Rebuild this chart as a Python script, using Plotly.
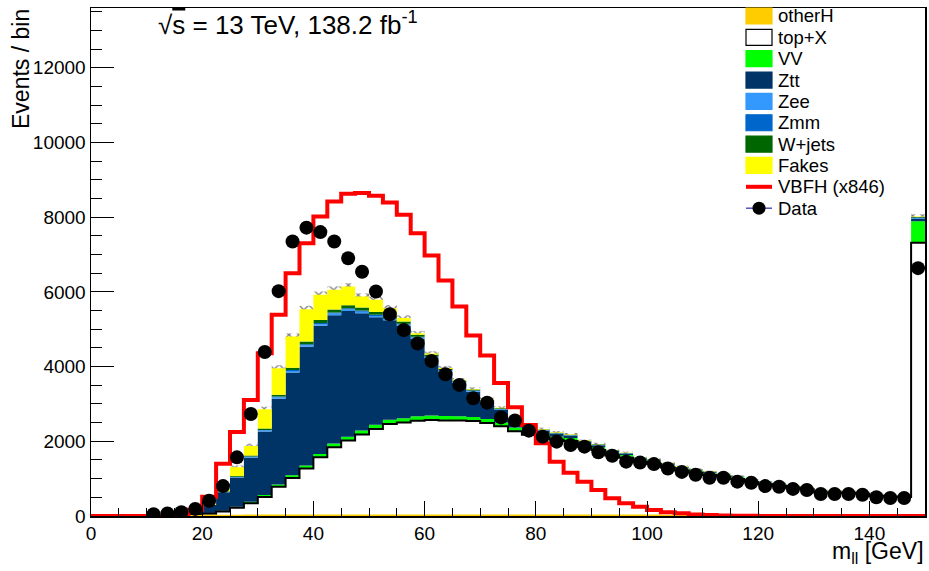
import plotly.graph_objects as go

# ---------------- data (60 bins of 2.5 GeV from 0 to 150) ----------------
bin_width = 2.5
n_bins = 60
bin_edges = [bin_width * i for i in range(n_bins + 1)]
bin_centers = [bin_width * (i + 0.5) for i in range(n_bins)]

otherH = [0, 0, 0, 0, 0, 0, 0, 2, 5, 8, 10, 15, 15, 15, 15, 15, 15, 15, 15, 15,
          15, 15, 15, 15, 15, 15, 15, 15, 15, 15, 15, 15, 15, 15, 15, 15, 15, 15, 15, 15,
          15, 8, 8, 8, 8, 8, 8, 8, 8, 8, 8, 8, 8, 8, 8, 8, 8, 8, 8, 30]
topX = [0, 0, 0, 0, 0, 0, 8, 23, 55, 112, 210, 325, 495, 765, 1005, 1255, 1555, 1825, 2005, 2165,
        2315, 2445, 2485, 2535, 2555, 2545, 2540, 2525, 2475, 2385, 2251, 2159, 2086, 2026, 1990, 1836, 1755, 1606, 1544, 1429,
        1383, 1290, 1208, 1152, 1087, 1048, 985, 900, 840, 803, 746, 709, 621, 613, 609, 586, 527, 509, 500, 7283]
VV = [0, 0, 0, 0, 0, 0, 2, 5, 10, 20, 30, 40, 50, 60, 70, 80, 90, 100, 105, 110,
      115, 120, 120, 122, 122, 120, 115, 110, 110, 105, 100, 95, 90, 88, 85, 82, 80, 76, 72, 70,
      66, 63, 60, 57, 55, 52, 50, 48, 46, 44, 42, 40, 38, 37, 36, 35, 34, 33, 32, 580]
Ztt = [0, 0, 0, 0, 0, 0, 30, 80, 225, 497, 784, 1180, 1701, 2296, 2753, 3180, 3432, 3437, 3365, 3140,
       2874, 2659, 2474, 2076, 1540, 1177, 892, 676, 450, 330, 200, 130, 90, 70, 60, 50, 45, 40, 35, 30,
       28, 25, 22, 20, 18, 16, 14, 12, 11, 10, 9, 9, 8, 8, 7, 7, 6, 6, 5, 60]
Zee = [0, 0, 0, 0, 0, 0, 0, 0, 3, 8, 12, 18, 25, 35, 40, 40, 42, 42, 40, 40,
       38, 35, 32, 30, 28, 25, 22, 20, 18, 16, 14, 12, 11, 10, 9, 8, 8, 7, 7, 6,
       6, 5, 5, 5, 4, 4, 3, 3, 3, 3, 3, 3, 3, 3, 3, 3, 3, 3, 3, 20]
Zmm = [0, 0, 0, 0, 0, 0, 0, 0, 2, 5, 8, 12, 18, 25, 28, 30, 30, 30, 30, 30,
       28, 26, 24, 22, 20, 18, 16, 14, 12, 11, 10, 9, 8, 7, 6, 6, 5, 5, 5, 4,
       4, 4, 4, 3, 3, 3, 2, 2, 2, 2, 2, 2, 2, 2, 2, 2, 2, 2, 2, 15]
Wjets = [0, 0, 0, 0, 0, 0, 0, 0, 0, 10, 20, 30, 40, 50, 60, 70, 80, 80, 80, 80,
         75, 70, 60, 50, 40, 35, 30, 25, 22, 20, 18, 16, 15, 14, 13, 12, 12, 11, 10, 10,
         9, 9, 8, 8, 7, 6, 5, 5, 5, 5, 5, 5, 5, 5, 5, 5, 5, 5, 5, 20]
Fakes = [0, 0, 0, 0, 0, 0, 5, 10, 30, 60, 230, 255, 513, 710, 833, 867, 678, 528, 503, 296,
         327, 194, 90, 40, 30, 30, 15, 15, 20, 15, 12, 14, 15, 10, 10, 9, 9, 8, 8, 8,
         7, 7, 7, 6, 6, 6, 5, 5, 5, 5, 5, 5, 5, 5, 5, 5, 5, 5, 5, 10]
# half-width of the hatched uncertainty band on the stack total
stack_unc = [0, 0, 0, 0, 0, 0, 5, 10, 20, 35, 50, 60, 70, 80, 85, 90, 90, 90, 90, 85,
             85, 80, 70, 65, 60, 55, 50, 45, 45, 40, 40, 38, 36, 35, 34, 33, 32, 30, 29, 28,
             27, 26, 25, 24, 23, 22, 21, 20, 19, 18, 18, 17, 16, 16, 15, 15, 14, 14, 13, 60]
VBFH_x846 = [0, 0, 0, 0, 0, 0, 40, 170, 518, 1400, 2250, 3108, 4358, 5385, 6500, 7305, 8019, 8420, 8626, 8645,
             8573, 8390, 8064, 7573, 6974, 6305, 5608, 4831, 4295, 3560, 2910, 2438, 1947, 1455, 1161, 920, 697, 473, 339, 250,
             160, 98, 71, 40, 25, 15, 8, 5, 3, 2, 1, 1, 0, 0, 0, 0, 0, 0, 0, 0]
data = [None, None, None, None, 45, 70, 100, 190, 410, 800, 1570, 2730, 4390, 6020, 7350, 7720, 7600, 7350, 6900, 6540,
        6010, 5400, 4980, 4620, 4150, 3795, 3510, 3150, 3035, 2640, 2555, 2285, 2125, 1990, 1900, 1857, 1705, 1615, 1455, 1430,
        1390, 1270, 1180, 1105, 1025, 1025, 920, 890, 800, 785, 725, 695, 590, 590, 590, 570, 500, 480, 480, 6635]

stack = [
    ("otherH", otherH, "#ffcc00"),
    ("top+X", topX, "#ffffff"),
    ("VV", VV, "#00ff00"),
    ("Ztt", Ztt, "#003366"),
    ("Zee", Zee, "#3399ff"),
    ("Zmm", Zmm, "#0066cc"),
    ("W+jets", Wjets, "#006600"),
    ("Fakes", Fakes, "#ffff00"),
]
for _, v, _ in stack:
    assert len(v) == n_bins
assert len(VBFH_x846) == n_bins and len(data) == n_bins and len(stack_unc) == n_bins


def steps(vals):
    return list(vals) + [vals[-1]]


fig = go.Figure()

cum = [0.0] * n_bins
cums = {}
for i, (name, vals, col) in enumerate(stack):
    cum = [a + b for a, b in zip(cum, vals)]
    cums[name] = cum
    fig.add_trace(go.Scatter(
        x=bin_edges, y=steps(cum), mode="lines", line=dict(shape="hv", width=0, color=col),
        fill="tozeroy" if i == 0 else "tonexty", fillcolor=col, name=name, showlegend=False,
        hoverinfo="skip"))
total = cum

# outlines
fig.add_trace(go.Scatter(x=bin_edges, y=steps(cums["top+X"]), mode="lines",
                         line=dict(shape="hv", width=2, color="black"), showlegend=False, hoverinfo="skip"))
fig.add_trace(go.Scatter(x=bin_edges, y=steps(cums["otherH"]), mode="lines",
                         line=dict(shape="hv", width=2, color="#ffcc00"), showlegend=False, hoverinfo="skip"))

# hatched uncertainty band on the total
fig.add_trace(go.Bar(
    x=bin_centers, y=[2 * u for u in stack_unc], base=[t - u for t, u in zip(total, stack_unc)],
    width=bin_width, marker=dict(color="rgba(0,0,0,0)", line=dict(width=0),
                                 pattern=dict(shape="x", fgcolor="black", bgcolor="rgba(0,0,0,0)",
                                              size=7, solidity=0.35, fillmode="overlay")),
    showlegend=False, hoverinfo="skip"))

# signal
fig.add_trace(go.Scatter(x=bin_edges, y=steps(VBFH_x846), mode="lines",
                         line=dict(shape="hv", width=4, color="#ff0000"), name="VBFH (x846)", showlegend=False,
                         hoverinfo="skip"))
# data
fig.add_trace(go.Scatter(x=bin_centers, y=data, mode="markers",
                         marker=dict(symbol="circle", size=14, color="black"), name="Data", showlegend=False,
                         hoverinfo="skip"))

FONT = "Liberation Sans, Arial, Helvetica, sans-serif"

W, H = 929, 571
L, R, T, B = 91, 4, 8, 55


def px(xp):
    return (xp - L) / (W - L - R)


def py(yp):
    return 1 - (yp - T) / (H - T - B)


# ---------------- manual ROOT-style legend ----------------
leg_items = ["otherH", "top+X", "VV", "Ztt", "Zee", "Zmm", "W+jets", "Fakes"]
colors = {n: c for n, _, c in stack}
shapes = []
annotations = []
y0 = 16
dy = 21.35
for k, name in enumerate(leg_items):
    yc = y0 + k * dy
    shapes.append(dict(type="rect", xref="paper", yref="paper",
                       x0=px(746), x1=px(772), y0=py(yc + 8), y1=py(yc - 8),
                       fillcolor=colors[name], line=dict(color="black" if name == "top+X" else colors[name], width=1.2)))
    annotations.append(dict(text=name, xref="paper", yref="paper", x=px(776), y=py(yc),
                            xanchor="left", yanchor="middle", showarrow=False,
                            font=dict(family=FONT, size=18.5, color="black")))
yc = y0 + 8 * dy
shapes.append(dict(type="line", xref="paper", yref="paper", x0=px(746), x1=px(772), y0=py(yc), y1=py(yc),
                   line=dict(color="#ff0000", width=4)))
annotations.append(dict(text="VBFH (x846)", xref="paper", yref="paper", x=px(776), y=py(yc),
                        xanchor="left", yanchor="middle", showarrow=False,
                        font=dict(family=FONT, size=18.5, color="black")))
yc = y0 + 9 * dy
shapes.append(dict(type="line", xref="paper", yref="paper", x0=px(746), x1=px(772), y0=py(yc), y1=py(yc),
                   line=dict(color="#000099", width=1)))
shapes.append(dict(type="circle", xref="paper", yref="paper", x0=px(752.5), x1=px(765.5), y0=py(yc + 6.5), y1=py(yc - 6.5),
                   fillcolor="black", line=dict(color="black", width=0)))
annotations.append(dict(text="Data", xref="paper", yref="paper", x=px(776), y=py(yc),
                        xanchor="left", yanchor="middle", showarrow=False,
                        font=dict(family=FONT, size=18.5, color="black")))

# energy / lumi label
annotations.append(dict(text="√<span style='text-decoration:overline'>s</span> = 13 TeV, 138.2 fb<sup>-1</sup>",
                        xref="paper", yref="paper", x=px(156), y=py(24), xanchor="left", yanchor="middle",
                        showarrow=False, font=dict(family=FONT, size=26, color="black")))
# axis titles
annotations.append(dict(text="m<sub>ll</sub> [GeV]", xref="paper", yref="paper", x=px(926), y=py(552),
                        xanchor="right", yanchor="middle", showarrow=False,
                        font=dict(family=FONT, size=23, color="black")))
annotations.append(dict(text="Events / bin", xref="paper", yref="paper", x=px(21), y=py(7), textangle=-90,
                        xanchor="center", yanchor="top", showarrow=False,
                        font=dict(family=FONT, size=23, color="black")))

fig.update_layout(
    width=W, height=H,
    margin=dict(l=L, r=R, t=T, b=B, autoexpand=False),
    paper_bgcolor="white", plot_bgcolor="white",
    showlegend=False, hovermode=False,
    shapes=shapes, annotations=annotations,
    font=dict(family=FONT, color="black"),
    xaxis=dict(range=[0, 150], showgrid=False, zeroline=False, showline=True, linecolor="black", linewidth=1.5,
               mirror=True, ticks="inside", ticklen=15, tickwidth=1, tickcolor="black", tick0=0, dtick=20,
               minor=dict(ticks="inside", ticklen=8, dtick=5, tickcolor="black", tickwidth=1),
               tickfont=dict(family=FONT, size=19, color="black"), automargin=False),
    yaxis=dict(range=[0, 13600], showgrid=False, zeroline=False, showline=True, linecolor="black", linewidth=1.5,
               mirror=True, ticks="inside", ticklen=23, tickwidth=1, tickcolor="black", tick0=0, dtick=2000,
               tickformat="d",
               minor=dict(ticks="inside", ticklen=11, dtick=500, tickcolor="black", tickwidth=1),
               tickfont=dict(family=FONT, size=19, color="black"), automargin=False),
)

# remove the browser's default 8 px page margin so the figure fills the window exactly
fig.write_html("out.html", config={"displayModeBar": False, "staticPlot": True},
               post_script="document.body.style.margin='0';document.body.style.overflow='hidden';")
